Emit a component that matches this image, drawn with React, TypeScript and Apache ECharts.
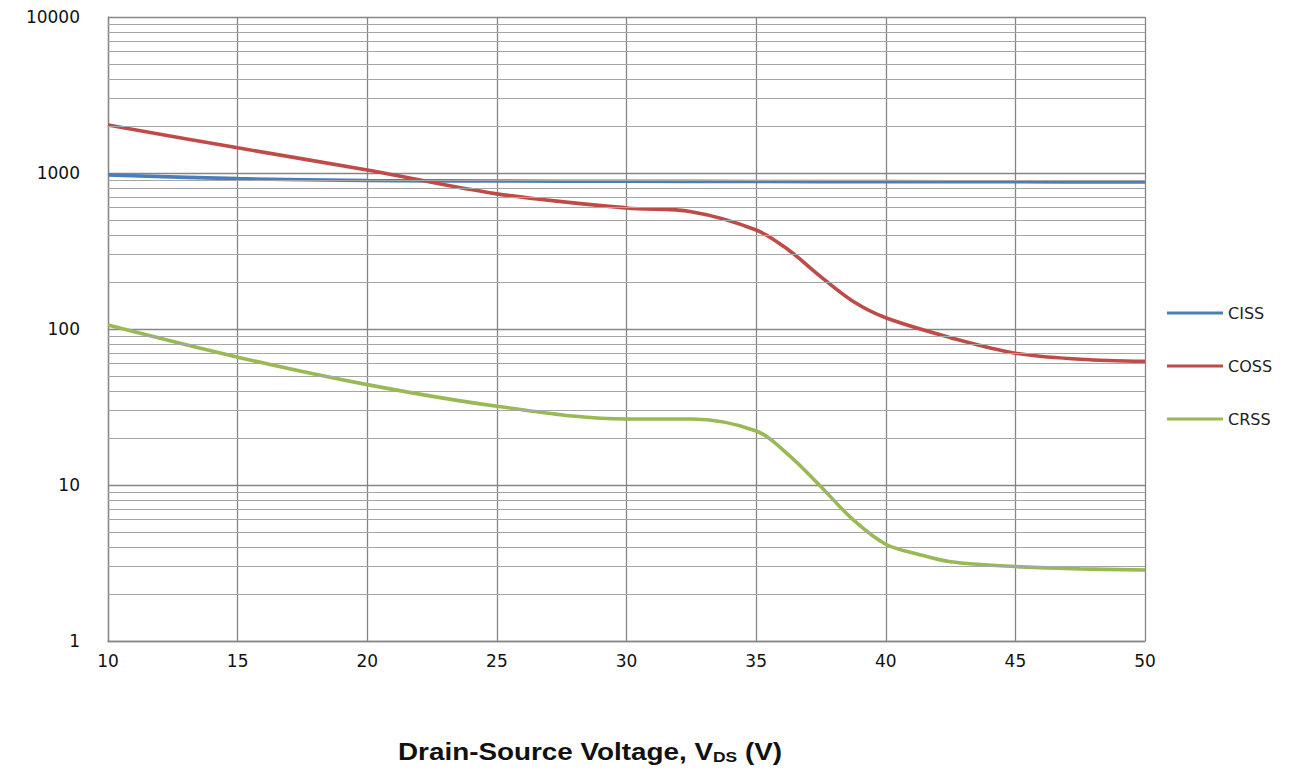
import React, { useEffect, useRef } from "react";
import * as echarts from "echarts";

// Drain-source voltage (V) at which each capacitance is sampled
const vdsCiss = [10, 15, 20, 25, 30, 35, 40, 45, 50];
const vdsCoss = [10, 15, 20, 25, 30, 32.5, 35, 36.25, 37.5, 38.75, 40, 42.5, 45, 47.5, 50];
const vdsCrss = [10, 15, 20, 25, 30, 32.5, 35, 36.25, 37.5, 38.75, 40, 41.25, 42.5, 45, 47.5, 50];

// Capacitances (pF)
const ciss = [970, 920, 895, 888, 885, 882, 880, 878, 876];
const coss = [2030, 1450, 1045, 735, 597, 565, 431, 321, 216, 150, 118, 88, 70, 64, 62];
const crss = [106, 66, 44, 32, 26.5, 26.5, 22.2, 15.6, 9.75, 5.97, 4.17, 3.6, 3.22, 3.0, 2.9, 2.85];

const seriesNames = ["CISS", "COSS", "CRSS"];
const seriesColors = ["#4A7EBB", "#BE4B48", "#98B954"];

const xTicks = { min: 10, max: 50, step: 5 };
const yDecades = [1, 10, 100, 1000, 10000];
const minorSteps = [2, 3, 4, 5, 6, 7, 8, 9];

const pair = (xs: number[], ys: number[]) => xs.map((x, i) => [x, ys[i]]);

export default function App() {
  const ref = useRef<HTMLDivElement>(null);

  useEffect(() => {
    if (!ref.current) return;
    const chart = echarts.init(ref.current, null, { renderer: "svg" });

    // light lines at 2..9 of every decade
    const minorLines: { yAxis: number }[] = [];
    for (let d = 0; d < yDecades.length - 1; d++) {
      for (const m of minorSteps) minorLines.push({ yAxis: m * yDecades[d] });
    }

    const lineSeries = [
      pair(vdsCiss, ciss),
      pair(vdsCoss, coss),
      pair(vdsCrss, crss),
    ].map((data, i) => ({
      name: seriesNames[i],
      type: "line",
      data,
      smooth: 0.35,
      showSymbol: false,
      z: 3,
      lineStyle: { color: seriesColors[i], width: 3.6 },
      itemStyle: { color: seriesColors[i] },
    }));

    chart.setOption({
      animation: false,
      backgroundColor: "#ffffff",
      grid: { left: 108, right: 158, top: 17, bottom: 141 },
      legend: {
        orient: "vertical",
        left: 1162,
        top: 300,
        itemWidth: 56,
        itemHeight: 3,
        itemGap: 37,
        icon: "rect",
        data: seriesNames,
        textStyle: { fontFamily: "DejaVu Sans", fontSize: 16, color: "#222" },
        selectedMode: false,
      },
      xAxis: {
        type: "value",
        min: xTicks.min,
        max: xTicks.max,
        interval: xTicks.step,
        axisLine: { show: true, lineStyle: { color: "#868686", width: 1.3 } },
        axisTick: { show: false },
        axisLabel: {
          margin: 11,
          fontFamily: "DejaVu Sans",
          fontSize: 17,
          color: "#111",
        },
        splitLine: { show: true, lineStyle: { color: "#868686", width: 1.3 } },
      },
      yAxis: {
        type: "log",
        logBase: 10,
        min: yDecades[0],
        max: yDecades[yDecades.length - 1],
        axisLine: { show: true, lineStyle: { color: "#868686", width: 1.3 } },
        axisTick: { show: false },
        axisLabel: {
          margin: 28,
          fontFamily: "DejaVu Sans",
          fontSize: 17,
          color: "#111",
          formatter: (v: number) => String(Math.round(v)),
        },
        splitLine: { show: true, lineStyle: { color: "#868686", width: 1.3 } },
      },
      series: [
        {
          name: "grid-minor",
          type: "line",
          data: [],
          z: 1,
          silent: true,
          markLine: {
            silent: true,
            symbol: "none",
            label: { show: false },
            emphasis: { disabled: true },
            lineStyle: { color: "#a6a6a6", width: 1, type: "solid" },
            data: minorLines,
          },
        },
        ...lineSeries,
      ],
      graphic: [
        {
          type: "text",
          x: 398,
          y: 740,
          scaleX: 1.16,
          style: {
            text: "{b|Drain-Source Voltage, V}{s|DS}{b| (V)}",
            rich: {
              b: {
                fontFamily: "Liberation Sans",
                fontWeight: "bold",
                fontSize: 24,
                fill: "#111",
                verticalAlign: "bottom",
              },
              s: {
                fontFamily: "Liberation Sans",
                fontWeight: "bold",
                fontSize: 15,
                fill: "#111",
                padding: [8, 0, 0, 0],
                verticalAlign: "bottom",
              },
            },
          },
        },
      ],
    });

    return () => chart.dispose();
  }, []);

  return (
    <div
      ref={ref}
      style={{ position: "fixed", left: 0, top: 0, width: 1303, height: 782 }}
    />
  );
}
